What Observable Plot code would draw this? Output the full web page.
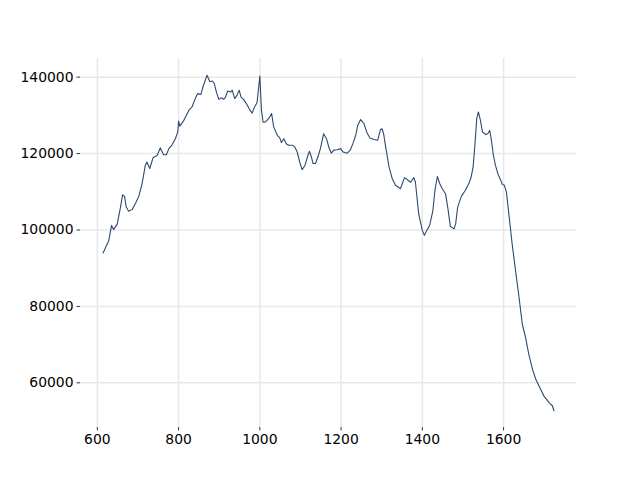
<!DOCTYPE html>
<html>
<head>
<meta charset="utf-8">
<script src="https://cdn.jsdelivr.net/npm/d3@7"></script>
<script src="https://cdn.jsdelivr.net/npm/@observablehq/plot@0.6"></script>
<style>
html,body{margin:0;padding:0;background:#fff;}
</style>
</head>
<body>
<div id="chart"></div>
<script>
const xs = [614,628,635,640,649,657,662,667,671,677,686,694,702,710,718,722,729,737,747,755,763,770,776,784,792,798,800,803,813,825,833,841,847,855,860,870,877,883,888,893,899,905,911,915,921,928,932,938,944,949,954,960,969,975,981,987,993,1000,1004,1008,1014,1022,1029,1034,1043,1049,1053,1059,1065,1071,1080,1086,1092,1098,1104,1111,1117,1122,1127,1131,1137,1144,1149,1157,1164,1170,1176,1182,1190,1199,1205,1215,1223,1229,1236,1241,1248,1256,1264,1271,1281,1290,1297,1301,1305,1309,1318,1326,1334,1346,1356,1363,1371,1379,1383,1391,1400,1405,1412,1418,1426,1431,1437,1443,1449,1457,1463,1469,1478,1482,1487,1496,1506,1515,1520,1525,1529,1534,1538,1543,1548,1556,1561,1566,1570,1575,1580,1586,1593,1597,1602,1607,1613,1621,1630,1638,1646,1654,1662,1671,1679,1689,1699,1712,1720,1724];
const ys = [94000,97200,101200,100100,101600,106000,109200,108800,106000,104900,105400,107000,108800,112100,116900,117800,116100,118900,119500,121500,119700,119700,121300,122300,123900,125700,128500,127200,128700,131300,132200,134400,135700,135500,137500,140500,138800,139000,138300,136100,134200,134600,134200,134700,136400,136100,136600,134400,135300,136600,134700,134200,132700,131500,130600,132200,133300,140300,131300,128200,128300,129200,130500,127000,124800,124100,122900,123900,122600,122200,122200,121700,120400,117800,115800,116900,119100,120600,119100,117400,117400,119500,121300,125200,123900,121600,120100,120900,121000,121300,120400,120100,121000,122600,124800,127400,128900,127900,125400,124100,123700,123500,126300,126500,125000,122200,116500,113400,111700,110800,113700,113200,112500,113700,112500,104200,99900,98600,100100,101200,105100,110400,114000,112100,110800,109500,105600,100900,100300,101600,106000,108800,110400,112300,113800,116500,121700,129200,130900,128700,125700,125000,125200,126100,123500,119500,116900,114700,113000,111900,111700,109900,104200,96400,88900,82400,75400,71900,67500,63600,61000,58800,56600,54800,54000,52700];
const xTicks = [600,800,1000,1200,1400,1600];
const yTicks = [60000,80000,100000,120000,140000];

const data = xs.map((x,i)=>({x, y: ys[i]}));
const [x0,x1] = d3.extent(xs), [y0,y1] = d3.extent(ys);
const xm = (x1-x0)*0.05, ym = (y1-y0)*0.05;

const chart = Plot.plot({
  width: 640,
  height: 480,
  marginLeft: 80,
  marginRight: 64,
  marginTop: 58,
  marginBottom: 53,
  style: {fontFamily: "DejaVu Sans", fontSize: "13.9px", color: "#000", background: "#fff"},
  x: {domain: [x0-xm, x1+xm], label: null},
  y: {domain: [y0-ym, y1+ym], label: null},
  marks: [
    Plot.gridX(xTicks, {stroke: "#e8e8e8", strokeOpacity: 1, strokeWidth: 1.5}),
    Plot.gridY(yTicks, {stroke: "#e8e8e8", strokeOpacity: 1, strokeWidth: 1.5}),
    Plot.axisX(xTicks, {tickSize: 3.5, tickPadding: 3.5, tickFormat: d => String(d), label: null, stroke: "#000", strokeWidth: 0.8}),
    Plot.axisY(yTicks, {tickSize: 3.5, tickPadding: 3.5, tickFormat: d => String(d), label: null, stroke: "#000", strokeWidth: 0.8}),
    Plot.line(data, {x: "x", y: "y", stroke: "#2b4a70", strokeWidth: 1.1})
  ]
});
document.getElementById("chart").appendChild(chart);
</script>
</body>
</html>
